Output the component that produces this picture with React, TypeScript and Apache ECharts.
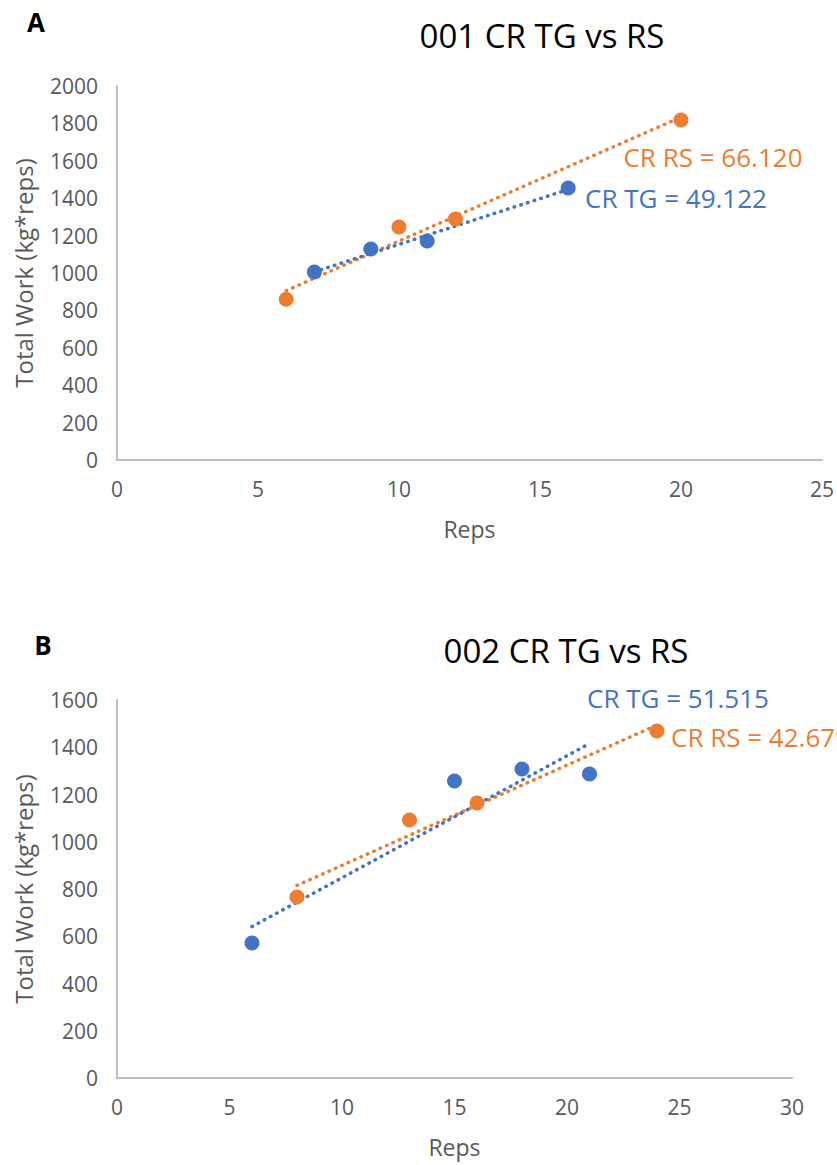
import React, { useEffect, useRef } from "react";
import * as echarts from "echarts";

// ---------- Data ----------
const titleA = "001 CR TG vs RS";
const titleB = "002 CR TG vs RS";

const repsTG_A = [7, 9, 11, 16];
const workTG_A = [1005, 1128, 1171, 1455];
const repsRS_A = [6, 10, 12, 20];
const workRS_A = [860, 1246, 1289, 1818];

const repsTG_B = [6, 15, 18, 21];
const workTG_B = [571, 1257, 1308, 1287];
const repsRS_B = [8, 13, 16, 24];
const workRS_B = [766, 1092, 1164, 1469];

const labelTG_A = "CR TG = 49.122";
const labelRS_A = "CR RS = 66.120";
const labelTG_B = "CR TG = 51.515";
const labelRS_B = "CR RS = 42.679";

const xTicksA = { min: 0, max: 25, interval: 5 };
const yTicksA = { min: 0, max: 2000, interval: 200 };
const xTicksB = { min: 0, max: 30, interval: 5 };
const yTicksB = { min: 0, max: 1600, interval: 200 };

// ---------- Helpers ----------
const BLUE = "#4472C4";
const ORANGE = "#ED7D31";
const GRAY = "#595959";
const AXIS = "#bfbfbf";
const FONT = "'Open Sans', 'Noto Sans', sans-serif";

function pairs(xs: number[], ys: number[]) {
  return xs.map((x, i) => [x, ys[i]]);
}

// least-squares linear trendline spanning the data's x range
function trend(xs: number[], ys: number[]) {
  const n = xs.length;
  const mx = xs.reduce((a, b) => a + b, 0) / n;
  const my = ys.reduce((a, b) => a + b, 0) / n;
  let sxy = 0;
  let sxx = 0;
  for (let i = 0; i < n; i++) {
    sxy += (xs[i] - mx) * (ys[i] - my);
    sxx += (xs[i] - mx) * (xs[i] - mx);
  }
  const b = sxy / sxx;
  const a = my - b * mx;
  const x0 = Math.min(...xs);
  const x1 = Math.max(...xs);
  return [
    [x0, a + b * x0],
    [x1, a + b * x1],
  ];
}

function xAxis(idx: number, t: { min: number; max: number; interval: number }) {
  return {
    type: "value",
    gridIndex: idx,
    min: t.min,
    max: t.max,
    interval: t.interval,
    name: "Reps",
    nameLocation: "middle",
    nameGap: 57,
    nameTextStyle: { color: GRAY, fontSize: 23, fontFamily: FONT },
    axisLine: { show: true, onZero: false, lineStyle: { color: AXIS, width: 2 } },
    axisTick: { show: false },
    splitLine: { show: false },
    axisLabel: {
      color: GRAY,
      fontSize: 21,
      fontFamily: FONT,
      margin: 18,
      formatter: (v: number) => String(v),
    },
  };
}

function yAxis(idx: number, t: { min: number; max: number; interval: number }) {
  return {
    type: "value",
    gridIndex: idx,
    min: t.min,
    max: t.max,
    interval: t.interval,
    name: "Total Work (kg*reps)",
    nameLocation: "middle",
    nameGap: 82,
    nameTextStyle: { color: GRAY, fontSize: 24, fontFamily: FONT },
    axisLine: { show: true, onZero: false, lineStyle: { color: AXIS, width: 2 } },
    axisTick: { show: false },
    splitLine: { show: false },
    axisLabel: {
      color: GRAY,
      fontSize: 21,
      fontFamily: FONT,
      margin: 19,
      formatter: (v: number) => String(v),
    },
  };
}

function scatter(idx: number, xs: number[], ys: number[], color: string) {
  return {
    type: "scatter",
    xAxisIndex: idx,
    yAxisIndex: idx,
    data: pairs(xs, ys),
    symbolSize: 15,
    itemStyle: { color, opacity: 1 },
    z: 3,
  };
}

function trendLine(idx: number, xs: number[], ys: number[], color: string) {
  return {
    type: "line",
    xAxisIndex: idx,
    yAxisIndex: idx,
    data: trend(xs, ys),
    showSymbol: false,
    symbol: "none",
    lineStyle: { color, width: 3.5, type: [0.5, 6.5], cap: "round" },
    z: 2,
  };
}

function text(txt: string, x: number, y: number, color: string, size: number, weight = "normal", align = "center") {
  return {
    type: "text",
    x,
    y,
    style: {
      text: txt,
      fill: color,
      fontSize: size,
      fontFamily: FONT,
      fontWeight: weight,
      textAlign: align,
      textVerticalAlign: "middle",
    },
  };
}

export default function App() {
  const ref = useRef<HTMLDivElement>(null);

  useEffect(() => {
    if (!ref.current) return;
    const chart = echarts.init(ref.current, undefined, { renderer: "svg" });
    chart.setOption({
      animation: false,
      backgroundColor: "#ffffff",
      grid: [
        { left: 117, top: 86, width: 705, height: 374, containLabel: false },
        { left: 117, top: 700, width: 675, height: 378, containLabel: false },
      ],
      xAxis: [xAxis(0, xTicksA), xAxis(1, xTicksB)],
      yAxis: [yAxis(0, yTicksA), yAxis(1, yTicksB)],
      series: [
        trendLine(0, repsRS_A, workRS_A, ORANGE),
        trendLine(0, repsTG_A, workTG_A, BLUE),
        scatter(0, repsTG_A, workTG_A, BLUE),
        scatter(0, repsRS_A, workRS_A, ORANGE),
        trendLine(1, repsRS_B, workRS_B, ORANGE),
        trendLine(1, repsTG_B, workTG_B, BLUE),
        scatter(1, repsTG_B, workTG_B, BLUE),
        scatter(1, repsRS_B, workRS_B, ORANGE),
      ],
      graphic: [
        text("A", 36, 22, "#000000", 26, "bold"),
        text(titleA, 542, 35, "#000000", 33),
        text(labelRS_A, 713, 157, ORANGE, 26),
        text(labelTG_A, 676, 198, BLUE, 26),
        text("B", 43, 645, "#000000", 26, "bold"),
        text(titleB, 566, 650, "#000000", 33),
        text(labelTG_B, 678, 698, BLUE, 26),
        text(labelRS_B, 671, 737, ORANGE, 26, "normal", "left"),
      ],
    });
    return () => chart.dispose();
  }, []);

  return (
    <div
      ref={ref}
      style={{ position: "absolute", left: 0, top: 0, width: 837, height: 1165, overflow: "hidden" }}
    />
  );
}
